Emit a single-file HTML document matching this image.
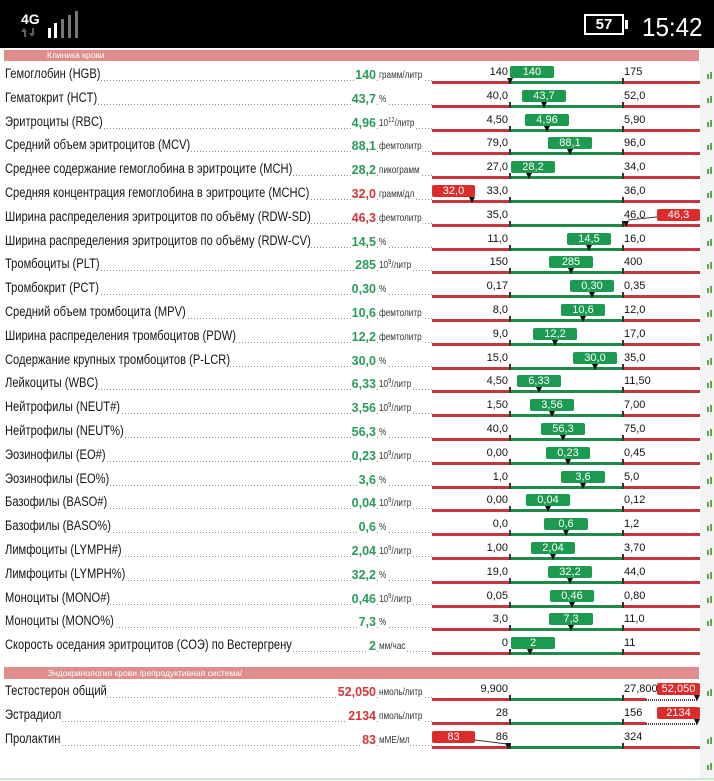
<!DOCTYPE html>
<html><head><meta charset="utf-8">
<style>
*{margin:0;padding:0;box-sizing:border-box}
html,body{width:714px;height:781px;overflow:hidden;background:#fff;font-family:"Liberation Sans",Arial,sans-serif;color:#111}
.sb{position:absolute;left:0;top:0;width:714px;height:48px;background:#000}
.strip{position:absolute;left:700px;top:48px;width:14px;height:731px;background:#f2f5f3}
.botl{position:absolute;left:0;top:778px;width:714px;height:2px;background:#cfe6cf}
.hd{position:absolute;left:4px;width:695px;height:11px;background:#e08d8d;color:#fff;font-size:8.5px;line-height:11px;padding-left:43px;white-space:nowrap}
.r{position:absolute;left:0;width:714px;height:24px}
.r::before,.r::after{content:"";position:absolute;width:2px;background:#62a64c}
.r::before{left:707px;top:11px;height:5px}
.r::after{left:710px;top:9px;height:7px}
.r.noi::before,.r.noi::after{display:none}
.d{position:absolute;left:5px;width:427px;top:17px;height:1px;background:repeating-linear-gradient(90deg,#8c8c8c 0 1px,transparent 1px 3px)}
.l{position:absolute;left:5px;top:3.3px;font-size:13.5px;line-height:16px;transform:scaleX(.826);transform-origin:0 0;background:#fff;white-space:nowrap;color:#151515}
.v{position:absolute;right:338px;top:3.7px;font-weight:bold;font-size:12.5px;line-height:16px;color:#2b9b5c;background:#fff;padding-left:1px;white-space:nowrap}
.v.red{color:#d2363b}
.u{position:absolute;left:379px;top:4.5px;font-size:10px;line-height:16px;transform:scaleX(.82);transform-origin:0 0;background:#fff;color:#333;padding-right:1px;white-space:nowrap}
.s{font-size:7px;position:relative;top:-4px}
.rl{position:absolute;left:432px;width:268px;top:18px;height:3px;background:#c4363d}
.gl{position:absolute;left:510px;width:113px;top:18px;height:3px;background:#1f8a4a}
.gl::before,.gl::after{content:"";position:absolute;top:-3px;width:2px;height:6px;background:#333}
.gl::before{left:-1px}.gl::after{right:-1px}
.lo{position:absolute;right:206px;top:1.2px;font-size:11px;line-height:16px;color:#111;white-space:nowrap}
.hi{position:absolute;left:624px;top:1.2px;font-size:11px;line-height:16px;color:#111;white-space:nowrap}
.bx{position:absolute;top:3px;width:44px;height:12px;background:#1c9a50;color:#fff;font-size:11px;line-height:12px;text-align:center;border-radius:2px}
.bx.rb{background:#dc2b2b;width:43px}
.pt{position:absolute;top:15px;width:0;height:0;border-left:3px solid transparent;border-right:3px solid transparent;border-top:6px solid #111}
.dl{position:absolute;left:646px;width:51px;top:19px;height:2px;background:repeating-linear-gradient(90deg,#444 0 1px,transparent 1px 2px)}
.ar{position:absolute;width:0;height:0;border-left:3.5px solid transparent;border-right:3.5px solid transparent}
.as{position:absolute;width:2px;height:5px;background:#5e5e5e}
</style></head><body>

<div class="sb">
  <div style="position:absolute;left:21px;top:10.6px;font-weight:bold;font-size:14px;line-height:16px;color:#fff">4G</div>
  <div class="ar" style="left:21px;top:28px;border-bottom:4px solid #5e5e5e"></div>
  <div class="as" style="left:23.5px;top:32px"></div>
  <div class="as" style="left:31.5px;top:28px"></div>
  <div class="ar" style="left:29px;top:33px;border-top:4px solid #5e5e5e"></div>
  <div style="position:absolute;left:48px;top:28px;width:3px;height:10px;background:#fff"></div>
  <div style="position:absolute;left:54px;top:23px;width:3px;height:15px;background:#fff"></div>
  <div style="position:absolute;left:61px;top:19px;width:3px;height:19px;background:#777"></div>
  <div style="position:absolute;left:68px;top:15px;width:3px;height:23px;background:#777"></div>
  <div style="position:absolute;left:75px;top:11px;width:3px;height:27px;background:#777"></div>
  <div style="position:absolute;left:584px;top:14px;width:40px;height:21px;border:2px solid #fff;color:#fff;font-weight:bold;font-size:15px;line-height:17px;text-align:center">57</div>
  <div style="position:absolute;left:625px;top:20px;width:3px;height:9px;background:#fff"></div>
  <div style="position:absolute;left:642px;top:12px;font-size:26px;line-height:30px;color:#fff;transform:scaleX(.93);transform-origin:0 0">15:42</div>
</div>

<div class="strip"></div>
<div class="botl"></div>

<div class="hd" style="top:50px">Клиника крови</div>

<div class="r" style="top:63px"><div class="d"></div><div class="l">Гемоглобин (HGB)</div><div class="v">140</div><div class="u">грамм/литр</div><div class="rl"></div><div class="gl"></div><div class="lo">140</div><div class="hi">175</div><div class="bx" style="left:510px">140</div><div class="pt" style="left:507px"></div></div>

<div class="r" style="top:87px"><div class="d"></div><div class="l">Гематокрит (HCT)</div><div class="v">43,7</div><div class="u">%</div><div class="rl"></div><div class="gl"></div><div class="lo">40,0</div><div class="hi">52,0</div><div class="bx" style="left:522px">43,7</div><div class="pt" style="left:541px"></div></div>

<div class="r" style="top:111px"><div class="d"></div><div class="l">Эритроциты (RBC)</div><div class="v">4,96</div><div class="u">10<span class="s">12</span>/литр</div><div class="rl"></div><div class="gl"></div><div class="lo">4,50</div><div class="hi">5,90</div><div class="bx" style="left:525px">4,96</div><div class="pt" style="left:544px"></div></div>

<div class="r" style="top:134px"><div class="d"></div><div class="l">Средний объем эритроцитов (MCV)</div><div class="v">88,1</div><div class="u">фемтолитр</div><div class="rl"></div><div class="gl"></div><div class="lo">79,0</div><div class="hi">96,0</div><div class="bx" style="left:548px">88,1</div><div class="pt" style="left:567px"></div></div>

<div class="r" style="top:158px"><div class="d"></div><div class="l">Среднее содержание гемоглобина в эритроците (MCH)</div><div class="v">28,2</div><div class="u">пикограмм</div><div class="rl"></div><div class="gl"></div><div class="lo">27,0</div><div class="hi">34,0</div><div class="bx" style="left:511px">28,2</div><div class="pt" style="left:526px"></div></div>

<div class="r" style="top:182px"><div class="d"></div><div class="l">Средняя концентрация гемоглобина в эритроците (MCHC)</div><div class="v red">32,0</div><div class="u">грамм/дл</div><div class="rl"></div><div class="gl"></div><div class="lo">33,0</div><div class="hi">36,0</div><div class="bx rb" style="left:432px">32,0</div><div class="pt" style="left:469px"></div></div>

<div class="r" style="top:206px"><div class="d"></div><div class="l">Ширина распределения эритроцитов по объёму (RDW-SD)</div><div class="v red">46,3</div><div class="u">фемтолитр</div><div class="rl"></div><div class="gl"></div><div class="lo">35,0</div><div class="hi">46,0</div><div class="bx rb" style="left:657px">46,3</div><div class="pt" style="left:623px"></div></div>

<div class="r" style="top:230px"><div class="d"></div><div class="l">Ширина распределения эритроцитов по объёму (RDW-CV)</div><div class="v">14,5</div><div class="u">%</div><div class="rl"></div><div class="gl"></div><div class="lo">11,0</div><div class="hi">16,0</div><div class="bx" style="left:567px">14,5</div><div class="pt" style="left:586px"></div></div>

<div class="r" style="top:253px"><div class="d"></div><div class="l">Тромбоциты (PLT)</div><div class="v">285</div><div class="u">10<span class="s">9</span>/литр</div><div class="rl"></div><div class="gl"></div><div class="lo">150</div><div class="hi">400</div><div class="bx" style="left:549px">285</div><div class="pt" style="left:568px"></div></div>

<div class="r" style="top:277px"><div class="d"></div><div class="l">Тромбокрит (PCT)</div><div class="v">0,30</div><div class="u">%</div><div class="rl"></div><div class="gl"></div><div class="lo">0,17</div><div class="hi">0,35</div><div class="bx" style="left:570px">0,30</div><div class="pt" style="left:589px"></div></div>

<div class="r" style="top:301px"><div class="d"></div><div class="l">Средний объем тромбоцита (MPV)</div><div class="v">10,6</div><div class="u">фемтолитр</div><div class="rl"></div><div class="gl"></div><div class="lo">8,0</div><div class="hi">12,0</div><div class="bx" style="left:561px">10,6</div><div class="pt" style="left:580px"></div></div>

<div class="r" style="top:325px"><div class="d"></div><div class="l">Ширина распределения тромбоцитов (PDW)</div><div class="v">12,2</div><div class="u">фемтолитр</div><div class="rl"></div><div class="gl"></div><div class="lo">9,0</div><div class="hi">17,0</div><div class="bx" style="left:533px">12,2</div><div class="pt" style="left:552px"></div></div>

<div class="r" style="top:349px"><div class="d"></div><div class="l">Содержание крупных тромбоцитов (P-LCR)</div><div class="v">30,0</div><div class="u">%</div><div class="rl"></div><div class="gl"></div><div class="lo">15,0</div><div class="hi">35,0</div><div class="bx" style="left:573px">30,0</div><div class="pt" style="left:592px"></div></div>

<div class="r" style="top:372px"><div class="d"></div><div class="l">Лейкоциты (WBC)</div><div class="v">6,33</div><div class="u">10<span class="s">9</span>/литр</div><div class="rl"></div><div class="gl"></div><div class="lo">4,50</div><div class="hi">11,50</div><div class="bx" style="left:517px">6,33</div><div class="pt" style="left:536px"></div></div>

<div class="r" style="top:396px"><div class="d"></div><div class="l">Нейтрофилы (NEUT#)</div><div class="v">3,56</div><div class="u">10<span class="s">9</span>/литр</div><div class="rl"></div><div class="gl"></div><div class="lo">1,50</div><div class="hi">7,00</div><div class="bx" style="left:530px">3,56</div><div class="pt" style="left:549px"></div></div>

<div class="r" style="top:420px"><div class="d"></div><div class="l">Нейтрофилы (NEUT%)</div><div class="v">56,3</div><div class="u">%</div><div class="rl"></div><div class="gl"></div><div class="lo">40,0</div><div class="hi">75,0</div><div class="bx" style="left:541px">56,3</div><div class="pt" style="left:560px"></div></div>

<div class="r" style="top:444px"><div class="d"></div><div class="l">Эозинофилы (EO#)</div><div class="v">0,23</div><div class="u">10<span class="s">9</span>/литр</div><div class="rl"></div><div class="gl"></div><div class="lo">0,00</div><div class="hi">0,45</div><div class="bx" style="left:546px">0,23</div><div class="pt" style="left:565px"></div></div>

<div class="r" style="top:468px"><div class="d"></div><div class="l">Эозинофилы (EO%)</div><div class="v">3,6</div><div class="u">%</div><div class="rl"></div><div class="gl"></div><div class="lo">1,0</div><div class="hi">5,0</div><div class="bx" style="left:561px">3,6</div><div class="pt" style="left:580px"></div></div>

<div class="r" style="top:491px"><div class="d"></div><div class="l">Базофилы (BASO#)</div><div class="v">0,04</div><div class="u">10<span class="s">9</span>/литр</div><div class="rl"></div><div class="gl"></div><div class="lo">0,00</div><div class="hi">0,12</div><div class="bx" style="left:526px">0,04</div><div class="pt" style="left:545px"></div></div>

<div class="r" style="top:515px"><div class="d"></div><div class="l">Базофилы (BASO%)</div><div class="v">0,6</div><div class="u">%</div><div class="rl"></div><div class="gl"></div><div class="lo">0,0</div><div class="hi">1,2</div><div class="bx" style="left:544px">0,6</div><div class="pt" style="left:563px"></div></div>

<div class="r" style="top:539px"><div class="d"></div><div class="l">Лимфоциты (LYMPH#)</div><div class="v">2,04</div><div class="u">10<span class="s">9</span>/литр</div><div class="rl"></div><div class="gl"></div><div class="lo">1,00</div><div class="hi">3,70</div><div class="bx" style="left:531px">2,04</div><div class="pt" style="left:550px"></div></div>

<div class="r" style="top:563px"><div class="d"></div><div class="l">Лимфоциты (LYMPH%)</div><div class="v">32,2</div><div class="u">%</div><div class="rl"></div><div class="gl"></div><div class="lo">19,0</div><div class="hi">44,0</div><div class="bx" style="left:548px">32,2</div><div class="pt" style="left:567px"></div></div>

<div class="r" style="top:587px"><div class="d"></div><div class="l">Моноциты (MONO#)</div><div class="v">0,46</div><div class="u">10<span class="s">9</span>/литр</div><div class="rl"></div><div class="gl"></div><div class="lo">0,05</div><div class="hi">0,80</div><div class="bx" style="left:550px">0,46</div><div class="pt" style="left:569px"></div></div>

<div class="r" style="top:610px"><div class="d"></div><div class="l">Моноциты (MONO%)</div><div class="v">7,3</div><div class="u">%</div><div class="rl"></div><div class="gl"></div><div class="lo">3,0</div><div class="hi">11,0</div><div class="bx" style="left:549px">7,3</div><div class="pt" style="left:568px"></div></div>

<div class="r noi" style="top:634px"><div class="d"></div><div class="l">Скорость оседания эритроцитов (СОЭ) по Вестергрену</div><div class="v">2</div><div class="u">мм/час</div><div class="rl"></div><div class="gl"></div><div class="lo">0</div><div class="hi">11</div><div class="bx" style="left:511px">2</div><div class="pt" style="left:527px"></div></div>

<div class="hd" style="top:667px;height:12px;line-height:12px">Эндокринология крови /репродуктивная система/</div>

<div class="r" style="top:680px"><div class="d"></div><div class="l">Тестостерон общий</div><div class="v red">52,050</div><div class="u">нмоль/литр</div><div class="rl" style="width:214px"></div><div class="gl"></div><div class="dl"></div><div class="lo">9,900</div><div class="hi">27,800</div><div class="bx rb" style="left:657px">52,050</div><div class="pt" style="left:694px"></div></div>

<div class="r noi" style="top:704px"><div class="d"></div><div class="l">Эстрадиол</div><div class="v red">2134</div><div class="u">пмоль/литр</div><div class="rl" style="width:214px"></div><div class="gl"></div><div class="dl"></div><div class="lo">28</div><div class="hi">156</div><div class="bx rb" style="left:657px">2134</div><div class="pt" style="left:694px"></div></div>

<div class="r" style="top:728px"><div class="d"></div><div class="l">Пролактин</div><div class="v red">83</div><div class="u">мМЕ/мл</div><div class="rl"></div><div class="gl"></div><div class="lo">86</div><div class="hi">324</div><div class="bx rb" style="left:432px">83</div><div class="pt" style="left:505px"></div></div>

<div style="position:absolute;left:707px;top:765px;width:2px;height:5px;background:#62a64c"></div>
<div style="position:absolute;left:710px;top:763px;width:2px;height:7px;background:#62a64c"></div>

<svg style="position:absolute;left:0;top:0" width="714" height="781">
  <line x1="628" y1="220" x2="657" y2="217" stroke="#333" stroke-width="0.9"/>
  <line x1="475" y1="740" x2="507" y2="744" stroke="#333" stroke-width="0.9"/>
</svg>

</body></html>
